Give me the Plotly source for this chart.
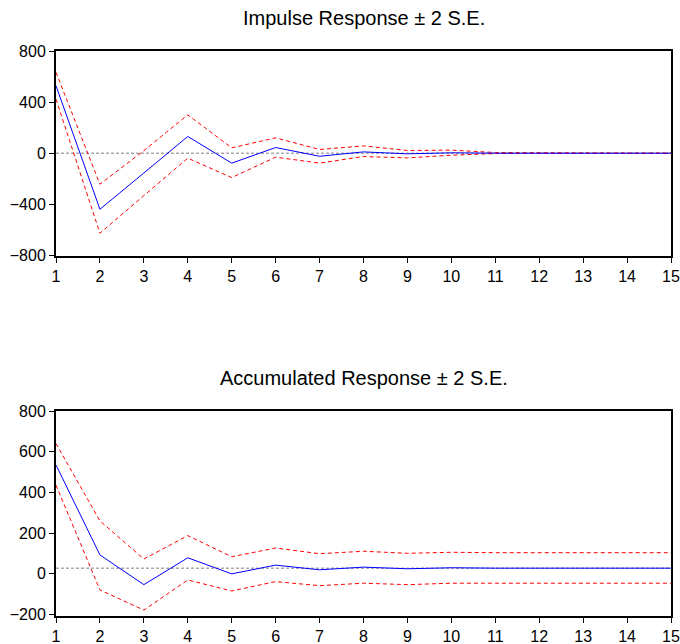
import plotly.graph_objects as go

# Forecast horizon
periods = list(range(1, 16))

# Impulse response with +/- 2 standard-error bands
impulse = [528, -439, -155, 131, -78, 44, -24, 10, -5, 3, 0, 0, 0, 0, 0]
impulse_upper = [633, -243, 20, 300, 42, 120, 29, 57, 21, 24, 5, 2, 2, 1, 1]
impulse_lower = [423, -627, -332, -39, -191, -31, -78, -26, -37, -16, -3, -2, -2, -1, -1]

# Accumulated response with +/- 2 standard-error bands
accum = [535, 93, -53, 79, 0, 43, 20, 33, 25, 30, 28, 28, 28, 28, 28]
accum_upper = [640, 260, 73, 188, 84, 127, 99, 111, 101, 106, 104, 104, 104, 104, 104]
accum_lower = [436, -79, -178, -30, -84, -38, -58, -46, -53, -46, -46, -46, -46, -46, -46]

# Reference levels
impulse_ref = 0
accum_ref = 28

titles = ["Impulse Response \u00b1 2 S.E.", "Accumulated Response \u00b1 2 S.E."]
impulse_ticks = [-800, -400, 0, 400, 800]
accum_ticks = [-200, 0, 200, 400, 600, 800]

W, H = 680, 644
FONT = "Liberation Sans, Arial, sans-serif"

fig = go.Figure()


def add_panel(idx, resp, upper, lower, ref):
    xa = "x" if idx == 1 else f"x{idx}"
    ya = "y" if idx == 1 else f"y{idx}"
    fig.add_trace(go.Scatter(x=[periods[0], periods[-1]], y=[ref, ref], mode="lines",
                             line=dict(color="#808080", width=1, dash="3px,2px"),
                             xaxis=xa, yaxis=ya, showlegend=False, hoverinfo="skip"))
    for band in (upper, lower):
        fig.add_trace(go.Scatter(x=periods, y=band, mode="lines",
                                 line=dict(color="#ff0000", width=1, dash="4px,3px"),
                                 xaxis=xa, yaxis=ya, showlegend=False))
    fig.add_trace(go.Scatter(x=periods, y=resp, mode="lines",
                             line=dict(color="#0000ff", width=1),
                             xaxis=xa, yaxis=ya, showlegend=False))


add_panel(1, impulse, impulse_upper, impulse_lower, impulse_ref)
add_panel(2, accum, accum_upper, accum_lower, accum_ref)

x0, x1 = 56 / W, 671 / W
top_dom = [1 - 256 / H, 1 - 51 / H]
bot_dom = [1 - 616 / H, 1 - 411 / H]

axis_common = dict(showgrid=False, zeroline=False, showline=True, mirror=True,
                   linecolor="black", linewidth=2, ticks="outside", ticklen=5,
                   tickwidth=1, tickcolor="black", automargin=False,
                   tickfont=dict(family=FONT, size=16, color="black"))

fig.update_layout(
    width=W, height=H,
    margin=dict(l=0, r=0, t=0, b=0),
    paper_bgcolor="white", plot_bgcolor="white",
    xaxis=dict(domain=[x0, x1], anchor="y", range=[1, 15], tickvals=periods, **axis_common),
    yaxis=dict(domain=top_dom, anchor="x", range=[-805, 800], tickvals=impulse_ticks, **axis_common),
    xaxis2=dict(domain=[x0, x1], anchor="y2", range=[1, 15], tickvals=periods, **axis_common),
    yaxis2=dict(domain=bot_dom, anchor="x2", range=[-207, 800], tickvals=accum_ticks, **axis_common),
    annotations=[
        dict(text=titles[0], x=(x0 + x1) / 2, y=1 - 18 / H, xref="paper", yref="paper",
             showarrow=False, xanchor="center", yanchor="middle",
             font=dict(family=FONT, size=20, color="black")),
        dict(text=titles[1], x=(x0 + x1) / 2, y=1 - 378 / H, xref="paper", yref="paper",
             showarrow=False, xanchor="center", yanchor="middle",
             font=dict(family=FONT, size=20, color="black")),
    ],
)

fig.write_html("out.html")
